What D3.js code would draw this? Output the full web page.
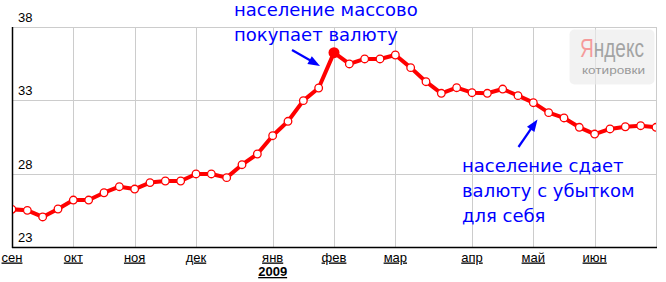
<!DOCTYPE html>
<html>
<head>
<meta charset="utf-8">
<script src="https://cdn.jsdelivr.net/npm/d3@7"></script>
<style>
  html, body { margin: 0; padding: 0; background: #fff; }
  svg { display: block; }
</style>
</head>
<body>
<svg id="chart" width="666" height="282"></svg>
<script>
// ---- data ----
const values = [25.57, 25.50, 25.05, 25.59, 26.20, 26.20, 26.70, 27.11, 26.95, 27.39,
                27.50, 27.50, 27.98, 27.98, 27.73, 28.61, 29.34, 30.59, 31.57, 32.98,
                33.84, 36.25, 35.48, 35.82, 35.82, 36.09, 35.23, 34.27, 33.48, 33.86,
                33.52, 33.48, 33.77, 33.32, 32.84, 32.16, 31.80, 31.16, 30.70, 31.05,
                31.20, 31.27, 31.16];
const peakIndex = 21;
const monthIndex = [0, 4, 8, 12, 17, 21, 25, 30, 34, 38];
const monthLabels = ["сен", "окт", "ноя", "дек", "янв", "фев", "мар", "апр", "май", "июн"];
const yearIndex = 17;
const yearLabel = "2009";
const yTicks = [23, 28, 33, 38];
const noteTop = ["население массово", "покупает валюту"];
const noteBottom = ["население сдает", "валюту с убытком", "для себя"];

// ---- layout ----
const pL = 12, pR = 656, pT = 27, pB = 247;
const svg = d3.select("#chart");
const x = d3.scaleLinear().domain([0, values.length - 1]).range([pL, pR]);
const y = d3.scaleLinear().domain([23, 38]).range([pB, pT]);

// gridlines
const grid = svg.append("g").attr("stroke", "#cccccc").attr("stroke-width", 1).attr("shape-rendering", "crispEdges");
grid.selectAll("line.h").data(yTicks.filter(d => d > 23)).join("line")
  .attr("x1", pL).attr("x2", pR + 0.5)
  .attr("y1", d => Math.round(y(d)) + 0.5).attr("y2", d => Math.round(y(d)) + 0.5);
grid.selectAll("line.v").data(monthIndex.slice(1).concat([values.length - 1])).join("line")
  .attr("x1", d => Math.round(x(d)) + 0.5).attr("x2", d => Math.round(x(d)) + 0.5)
  .attr("y1", pT).attr("y2", pB);

// Yandex logo (semi-transparent)
const defs = svg.append("defs");
const grad = defs.append("linearGradient").attr("id", "yagrad")
  .attr("gradientUnits", "userSpaceOnUse").attr("x1", 580).attr("x2", 644).attr("y1", 0).attr("y2", 0);
const cut = (592.6 - 580) / 64;
grad.append("stop").attr("offset", 0).attr("stop-color", "#f59a9a");
grad.append("stop").attr("offset", cut).attr("stop-color", "#f59a9a");
grad.append("stop").attr("offset", cut).attr("stop-color", "#a3a3a3");
grad.append("stop").attr("offset", 1).attr("stop-color", "#a3a3a3");

const logo = svg.append("g");
logo.append("rect").attr("x", 569.5).attr("y", 29.5).attr("width", 85).attr("height", 55)
  .attr("rx", 5).attr("fill", "#ebebeb").attr("opacity", 0.65);
logo.append("text").attr("x", 580).attr("y", 57)
  .attr("font-family", "'Liberation Sans Narrow', 'Arial Narrow', 'Liberation Sans', sans-serif")
  .attr("font-size", 25.5)
  .attr("textLength", 64).attr("lengthAdjust", "spacingAndGlyphs")
  .attr("fill", "url(#yagrad)").text("Яндекс");
logo.append("text").attr("x", 582).attr("y", 73.5)
  .attr("font-family", "'Liberation Sans', Arial, sans-serif").attr("font-size", 11.5)
  .attr("fill", "#999999").attr("textLength", 63).attr("lengthAdjust", "spacingAndGlyphs")
  .text("котировки");

// axes lines
svg.append("line").attr("x1", pL + 0.5).attr("x2", pL + 0.5).attr("y1", pT).attr("y2", pB + 1)
  .attr("stroke", "#000").attr("stroke-width", 1.5);
svg.append("line").attr("x1", pL).attr("x2", pR + 1).attr("y1", pB + 0.5).attr("y2", pB + 0.5)
  .attr("stroke", "#000").attr("stroke-width", 1.5);

// y labels
svg.append("g").selectAll("text").data(yTicks).join("text")
  .attr("x", 18).attr("y", d => y(d) - 5)
  .attr("font-family", "'Liberation Sans', Arial, sans-serif").attr("font-size", 13)
  .attr("fill", "#000").text(d => d);

// month labels
svg.append("g").selectAll("text").data(monthIndex).join("text")
  .attr("x", d => x(d)).attr("y", 261.5).attr("text-anchor", "middle")
  .attr("font-family", "'Liberation Sans', Arial, sans-serif").attr("font-size", 13)
  .attr("text-decoration", "underline").attr("fill", "#000")
  .text((d, i) => monthLabels[i]);
svg.append("text").attr("x", x(yearIndex)).attr("y", 276).attr("text-anchor", "middle")
  .attr("font-family", "'Liberation Sans', Arial, sans-serif").attr("font-size", 13)
  .attr("font-weight", "bold").attr("text-decoration", "underline").attr("fill", "#000")
  .text(yearLabel);

// clip
svg.append("clipPath").attr("id", "plotclip").append("rect")
  .attr("x", pL + 1).attr("y", 0).attr("width", pR - pL - 1).attr("height", pB);

const plot = svg.append("g").attr("clip-path", "url(#plotclip)");
const line = d3.line().x((d, i) => x(i)).y(d => y(d));
plot.append("path").datum(values).attr("d", line)
  .attr("fill", "none").attr("stroke", "#ff0000").attr("stroke-width", 4).attr("stroke-linejoin", "round");
plot.selectAll("circle").data(values).join("circle")
  .attr("cx", (d, i) => x(i)).attr("cy", d => y(d))
  .attr("r", (d, i) => i === peakIndex ? 5.5 : 3.8)
  .attr("fill", (d, i) => i === peakIndex ? "#ff0000" : "#fff")
  .attr("stroke", "#ff0000").attr("stroke-width", (d, i) => i === peakIndex ? 0 : 1.3);

// annotations
const blue = "#0000ff";
const noteFont = "'DejaVu Sans', Verdana, sans-serif";
svg.append("g").selectAll("text").data(noteTop).join("text")
  .attr("x", 234).attr("y", (d, i) => 15.5 + i * 25)
  .attr("font-family", noteFont).attr("font-size", 18).attr("fill", blue).text(d => d);
svg.append("g").selectAll("text").data(noteBottom).join("text")
  .attr("x", 462).attr("y", (d, i) => 171.5 + i * 25)
  .attr("font-family", noteFont).attr("font-size", 18).attr("fill", blue).text(d => d);

function arrow(x0, y0, x1, y1) {
  const dx = x1 - x0, dy = y1 - y0, L = Math.hypot(dx, dy);
  const ux = dx / L, uy = dy / L, hl = 12, hw = 4.5;
  const bx = x1 - ux * hl, by = y1 - uy * hl;
  svg.append("line").attr("x1", x0).attr("y1", y0).attr("x2", bx + ux * 2).attr("y2", by + uy * 2)
    .attr("stroke", blue).attr("stroke-width", 2.2);
  svg.append("polygon")
    .attr("points", [[x1, y1], [bx - uy * hw, by + ux * hw], [bx + uy * hw, by - ux * hw]].map(p => p.join(",")).join(" "))
    .attr("fill", blue);
}
arrow(292, 50, 320, 66);
arrow(518.5, 147, 537.5, 119.5);
</script>
</body>
</html>
